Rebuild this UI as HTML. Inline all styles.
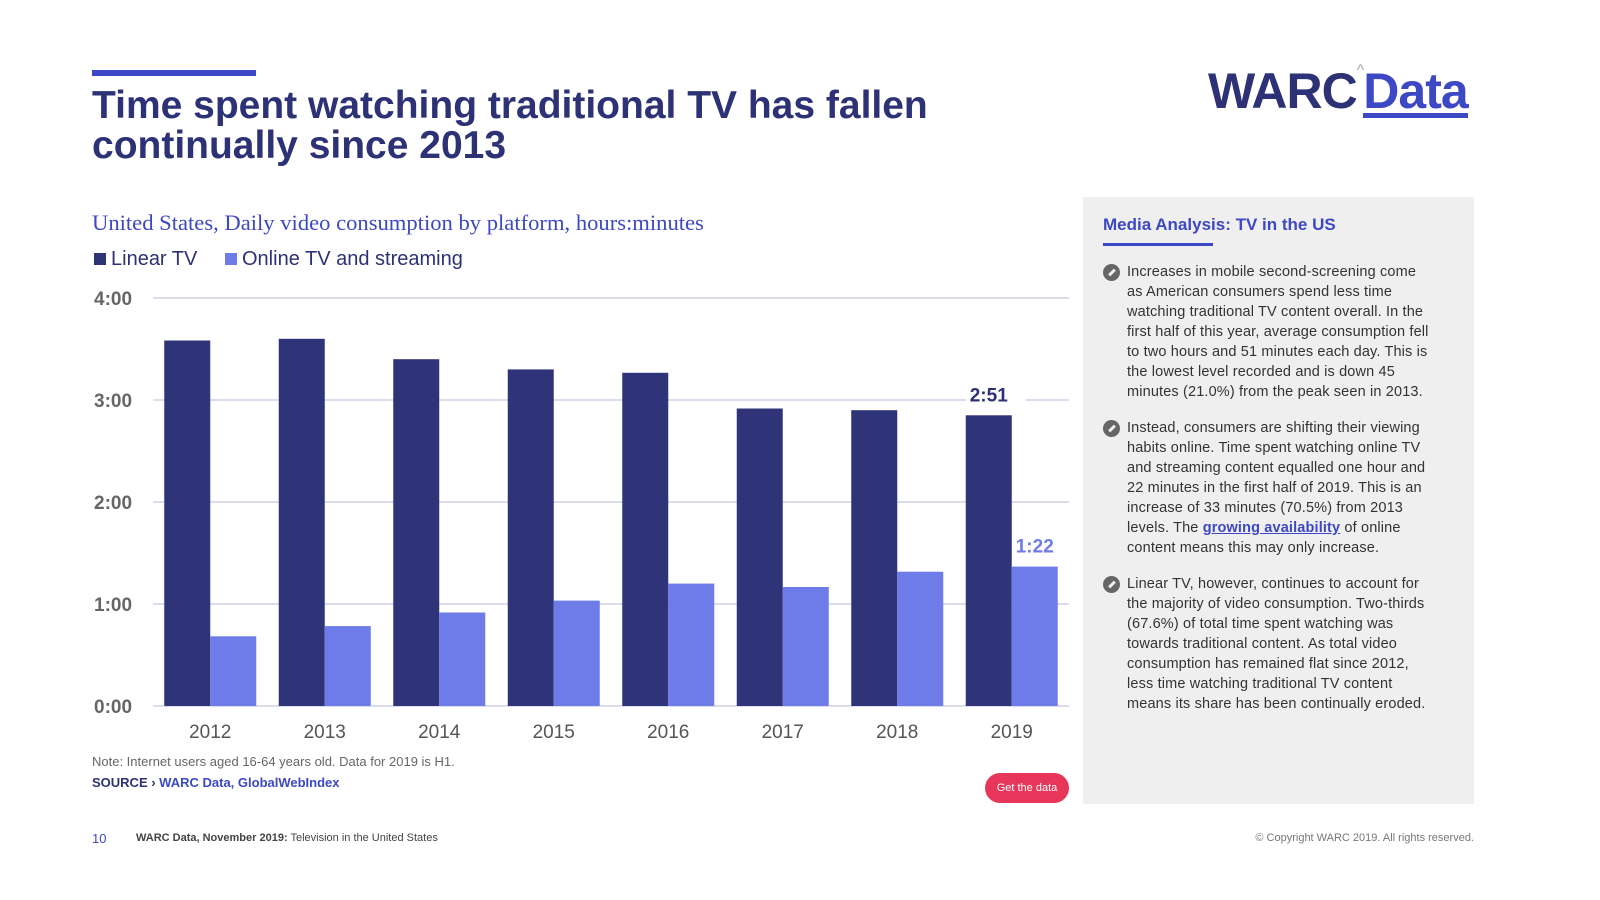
<!DOCTYPE html>
<html><head><meta charset="utf-8"><style>
body{margin:0;width:1600px;height:900px;background:#fff;font-family:"Liberation Sans",sans-serif;position:relative;overflow:hidden}
.a{position:absolute}
.p{font-size:14.5px;line-height:20px;color:#333;margin:0 0 16px 0;padding-left:24px;position:relative;letter-spacing:0.15px}
.p i{position:absolute;left:0;top:2px;width:17px;height:17px;border-radius:50%;background:#666}
.p i:after{content:"";position:absolute;left:5px;top:7px;width:8px;height:3px;background:#eee;transform:rotate(-45deg)}
</style></head><body>
<div class="a" style="left:92px;top:70px;width:164px;height:6px;background:#3d48c4"></div>
<div class="a" style="left:92px;top:86px;font-size:39px;font-weight:bold;color:#2d3175;line-height:40px">Time spent watching traditional TV has fallen<br>continually since 2013</div>
<div class="a" style="left:1208px;top:62px;font-size:50px;font-weight:bold;color:#2d3175;letter-spacing:-1px">WARC<span style="font-size:16px;color:#aa9;font-weight:normal;vertical-align:top">^</span><span style="color:#3d48c4;border-bottom:5px solid #3d48c4;line-height:44px;display:inline-block">Data</span></div>
<div class="a" style="left:92px;top:210px;font-family:'Liberation Serif',serif;font-size:22.6px;color:#3d48c4">United States, Daily video consumption by platform, hours:minutes</div>
<div class="a" style="left:94px;top:248px;font-size:20px;color:#2d3175"><span style="display:inline-block;width:12px;height:12px;background:#2f3478;margin-right:5px"></span>Linear TV</div>
<div class="a" style="left:225px;top:248px;font-size:20px;color:#2d3175"><span style="display:inline-block;width:12px;height:12px;background:#6d7ce8;margin-right:5px"></span>Online TV and streaming</div>
<svg class="a" style="left:0;top:0" width="1080" height="760" id="chart"></svg>
<div class="a" style="left:92px;top:754px;font-size:13px;color:#666">Note: Internet users aged 16-64 years old. Data for 2019 is H1.</div>
<div class="a" style="left:92px;top:775px;font-size:13px;font-weight:bold;color:#2d3175">SOURCE › <span style="color:#3d48c4">WARC Data, GlobalWebIndex</span></div>
<div class="a" style="left:985px;top:773px;width:84px;height:30px;border-radius:15px;background:#e8365a;color:#fff;font-size:11px;text-align:center;line-height:30px">Get the data</div>
<div class="a" style="left:1083px;top:197px;width:391px;height:607px;background:#efefef">
<div style="position:absolute;left:20px;top:18px;font-size:17px;font-weight:bold;color:#3d48c4">Media Analysis: TV in the US</div>
<div style="position:absolute;left:20px;top:46px;width:110px;height:3px;background:#3d48c4"></div>
<div style="position:absolute;left:20px;top:65px;width:332px">
<p class="p"><i></i>Increases in mobile second-screening come as American consumers spend less time watching traditional TV content overall. In the first half of this year, average consumption fell to two hours and 51 minutes each day. This is the lowest level recorded and is down 45 minutes (21.0%) from the peak seen in 2013.</p>
<p class="p"><i></i>Instead, consumers are shifting their viewing habits online. Time spent watching online TV and streaming content equalled one hour and 22 minutes in the first half of 2019. This is an increase of 33 minutes (70.5%) from 2013 levels. The <a style="color:#3d48c4;font-weight:bold;text-decoration:underline">growing availability</a> of online content means this may only increase.</p>
<p class="p"><i></i>Linear TV, however, continues to account for the majority of video consumption. Two-thirds (67.6%) of total time spent watching was towards traditional content. As total video consumption has remained flat since 2012, less time watching traditional TV content means its share has been continually eroded.</p>
</div></div>
<div class="a" style="left:92px;top:831px;font-size:13px;color:#3d48c4">10</div>
<div class="a" style="left:136px;top:832px;font-size:11px;color:#444"><b>WARC Data, November 2019:</b> Television in the United States</div>
<div class="a" style="right:126px;top:832px;font-size:11px;color:#777">© Copyright WARC 2019. All rights reserved.</div>
<script>
const categories=["2012","2013","2014","2015","2016","2017","2018","2019"];
const linearTV=[215,216,204,198,196,175,174,171];
const onlineTV=[41,47,55,62,72,70,79,82];
const yTicks=[0,60,120,180,240];
const tickLabels=["0:00","1:00","2:00","3:00","4:00"];
const labeledIndex=7;
const svg=document.getElementById('chart');const NS="http://www.w3.org/2000/svg";
const x0=153,x1=1069,y0=706,y1=298,max=240;
const y=v=>y0-(v/max)*(y0-y1);
const cw=(x1-x0)/categories.length;
const fmt=m=>Math.floor(m/60)+":"+String(m%60).padStart(2,"0");
function mk(t,a,txt){const e=document.createElementNS(NS,t);for(const k in a)e.setAttribute(k,a[k]);if(txt!==undefined)e.textContent=txt;svg.appendChild(e);return e;}
yTicks.forEach((v,i)=>{
 const l=mk('line',{x1:x0,x2:x1,y1:y(v),y2:y(v),stroke:'#dcdcec','stroke-width':2});
 
 
 const t=mk('text',{x:94,y:y(v)+7,'font-size':19,'font-weight':'bold',fill:'#666','font-family':'Liberation Sans'},tickLabels[i]);
 
 
});
categories.forEach((c,i)=>{
 const cx=x0+cw*(i+0.5);
 const b1=mk('rect',{x:cx-46,y:y(linearTV[i]),width:46,height:y0-y(linearTV[i]),fill:'#2f3478'});
 
 
 const b2=mk('rect',{x:cx,y:y(onlineTV[i]),width:46,height:y0-y(onlineTV[i]),fill:'#6d7ce8'});
 
 
 const t=mk('text',{x:cx,y:738,'font-size':19,fill:'#555','text-anchor':'middle','font-family':'Liberation Sans'},c);
 
 
 if(i===labeledIndex){
  const r=mk('rect',{x:cx-46,y:y(linearTV[i])-36,width:60,height:26,fill:'#fff'});
  
  
  const a=mk('text',{x:cx-23,y:y(linearTV[i])-14,'font-size':19,'font-weight':'bold',fill:'#2d3175','text-anchor':'middle','font-family':'Liberation Sans'},fmt(linearTV[i]));
  
  
  const b=mk('text',{x:cx+23,y:y(onlineTV[i])-14,'font-size':19,'font-weight':'bold',fill:'#6d7ce8','text-anchor':'middle','font-family':'Liberation Sans'},fmt(onlineTV[i]));
  
  
 }
});
</script>
</body></html>
